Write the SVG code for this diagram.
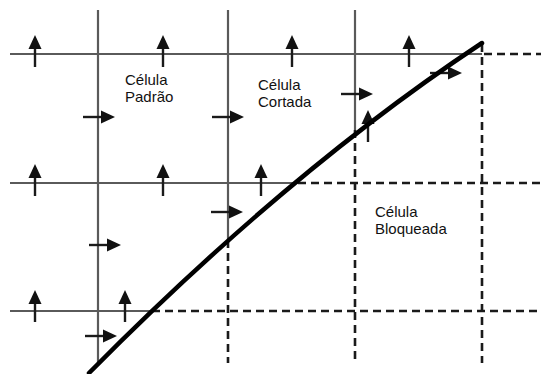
<svg xmlns="http://www.w3.org/2000/svg" width="541" height="374" viewBox="0 0 541 374">
<defs>
<style>
.grid{stroke:#5a5a5a;stroke-width:2.2;fill:none}
.dash{stroke:#1a1a1a;stroke-width:2.6;stroke-dasharray:8,5;fill:none}
.shaft{stroke:#1a1a1a;stroke-width:2.4;fill:none}
.head{fill:#111}
.lbl{font-family:"Liberation Sans",Arial,sans-serif;font-size:15px;fill:#111}
.wall{stroke:#000;stroke-width:4.5;fill:none;stroke-linecap:round}
</style>
<g id="up"><line class="shaft" x1="0" y1="0" x2="0" y2="-20"/><polygon class="head" points="-6.5,-18 6.5,-18 0,-32"/></g>
<g id="right"><line class="shaft" x1="0" y1="0" x2="20" y2="0"/><polygon class="head" points="18,-6.5 18,6.5 32,0"/></g>
</defs>
<rect width="541" height="374" fill="#fff"/>
<g id="connectors">
<line class="grid" x1="10" y1="54" x2="482" y2="54"/>
<line class="dash" x1="484" y1="54" x2="541" y2="54"/>
<line class="grid" x1="10" y1="183" x2="298" y2="183"/>
<line class="dash" x1="298" y1="183" x2="541" y2="183"/>
<line class="grid" x1="10" y1="311" x2="152" y2="311"/>
<line class="dash" x1="152" y1="311" x2="541" y2="311"/>
<line class="grid" x1="98" y1="10" x2="98" y2="366"/>
<line class="grid" x1="228" y1="10" x2="228" y2="240"/>
<line class="dash" x1="228" y1="240" x2="228" y2="363"/>
<line class="grid" x1="355" y1="10" x2="355" y2="130"/>
<line class="dash" x1="355" y1="130" x2="355" y2="363"/>
<line class="dash" x1="482" y1="44" x2="482" y2="363"/>
</g>
<g id="arrows">
<use href="#up" x="35" y="67"/>
<use href="#up" x="163" y="67"/>
<use href="#up" x="292" y="67"/>
<use href="#up" x="409" y="67"/>
<use href="#up" x="35" y="196"/>
<use href="#up" x="163" y="196"/>
<use href="#up" x="261" y="196"/>
<use href="#up" x="35" y="322"/>
<use href="#up" x="125" y="322"/>
<use href="#up" x="368" y="142"/>
<use href="#right" x="83" y="117"/>
<use href="#right" x="212" y="117"/>
<use href="#right" x="341" y="94"/>
<use href="#right" x="430" y="73"/>
<use href="#right" x="211" y="212"/>
<use href="#right" x="89" y="245"/>
<use href="#right" x="85" y="336"/>
</g>
<g id="wall"><path class="wall" d="M89,373 Q290,170 482,43"/></g>
<g id="cell-padrao"><text class="lbl" x="125" y="85">Célula</text><text class="lbl" x="125" y="102">Padrão</text></g>
<g id="cell-cortada"><text class="lbl" x="258" y="90">Célula</text><text class="lbl" x="258" y="107">Cortada</text></g>
<g id="cell-bloqueada"><text class="lbl" x="375" y="217">Célula</text><text class="lbl" x="375" y="234">Bloqueada</text></g>
</svg>
